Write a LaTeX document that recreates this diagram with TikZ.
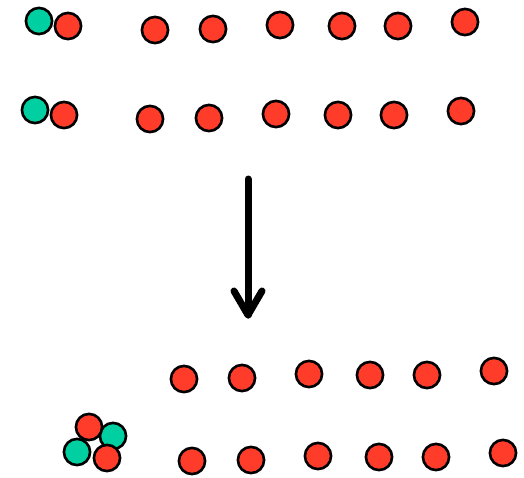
\documentclass[tikz,border=0pt]{standalone}
\begin{document}
\begin{tikzpicture}[x=1pt,y=-1pt,
  ball/.style={circle,draw=black,line width=2.6pt,minimum size=26.2pt,inner sep=0pt},
  redball/.style={ball,fill=ballred},
  greenball/.style={ball,fill=ballgreen},
  bigarrow/.style={line width=7pt,line cap=round,line join=round}]
\definecolor{ballred}{RGB}{255,59,41}
\definecolor{ballgreen}{RGB}{0,207,161}
\useasboundingbox (0,0) rectangle (524,477);
% upper pair of rows
\node[greenball] (g1) at (39,21) {};
\node[redball] (r1a) at (68,26) {};
\node[redball] (r1b) at (155,30) {};
\node[redball] (r1c) at (213,29) {};
\node[redball] (r1d) at (280,25) {};
\node[redball] (r1e) at (342,26) {};
\node[redball] (r1f) at (398,26) {};
\node[redball] (r1g) at (465,22) {};
\node[greenball] (g2) at (35,110) {};
\node[redball] (r2a) at (64,115) {};
\node[redball] (r2b) at (150,119) {};
\node[redball] (r2c) at (209,118) {};
\node[redball] (r2d) at (276,114) {};
\node[redball] (r2e) at (338,115) {};
\node[redball] (r2f) at (394,115) {};
\node[redball] (r2g) at (461,111) {};
% arrow
\coordinate (as) at (248,179);
\coordinate (at) at (248,315);
\coordinate (al) at (234,291);
\coordinate (ar) at (262,291);
\draw[bigarrow] (as) -- (at);
\draw[bigarrow] (al) -- (at) -- (ar);
% lower rows
\node[redball] (r3b) at (184,379) {};
\node[redball] (r3c) at (242,378) {};
\node[redball] (r3d) at (309,374) {};
\node[redball] (r3e) at (370,375) {};
\node[redball] (r3f) at (427,375) {};
\node[redball] (r3g) at (494,371) {};
\node[redball] (r4b) at (192,461) {};
\node[redball] (r4c) at (251,460) {};
\node[redball] (r4d) at (318,456) {};
\node[redball] (r4e) at (379,457) {};
\node[redball] (r4f) at (436,457) {};
\node[redball] (r4g) at (503,453) {};
% cluster
\node[greenball] (cg1) at (113,436) {};
\node[greenball] (cg2) at (77,452) {};
\node[redball] (cr1) at (89,427) {};
\node[redball] (cr2) at (107,458) {};
\end{tikzpicture}
\end{document}
